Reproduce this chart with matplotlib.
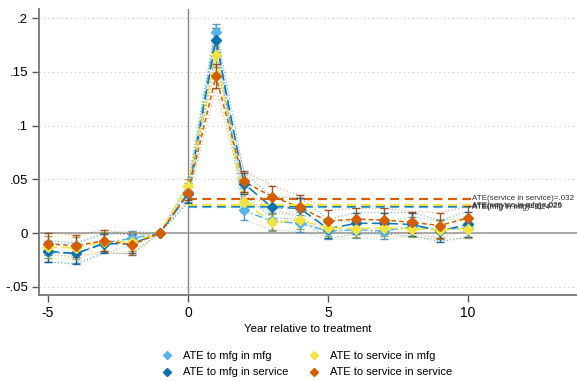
import numpy as np
import matplotlib
matplotlib.use("Agg")
import matplotlib.pyplot as plt
from matplotlib.lines import Line2D

plt.rcParams['font.family'] = ['Liberation Sans', 'DejaVu Sans']

years = np.arange(-5, 11)

# point estimates and CI half-widths by event year
mfg_mfg = [-0.018, -0.019, -0.009, -0.005, 0, 0.038, 0.187, 0.021, 0.011, 0.009,
           0.002, 0.003, 0.002, 0.006, 0.003, 0.005]
mfg_mfg_ci = [0.009, 0.009, 0.009, 0.007, 0, 0.009, 0.008, 0.009, 0.008, 0.008,
              0.008, 0.008, 0.008, 0.009, 0.009, 0.009]
mfg_svc = [-0.017, -0.019, -0.010, -0.010, 0, 0.036, 0.180, 0.046, 0.024, 0.023,
           0.004, 0.009, 0.009, 0.008, 0.002, 0.008]
mfg_svc_ci = [0.010, 0.010, 0.009, 0.009, 0, 0.008, 0.011, 0.010, 0.010, 0.010,
              0.009, 0.010, 0.010, 0.011, 0.010, 0.012]
svc_mfg = [-0.013, -0.014, -0.008, -0.008, 0, 0.044, 0.166, 0.029, 0.010, 0.012,
           0.005, 0.004, 0.005, 0.004, 0.003, 0.004]
svc_mfg_ci = [0.010, 0.010, 0.009, 0.009, 0, 0.006, 0.011, 0.009, 0.008, 0.008,
              0.008, 0.008, 0.008, 0.008, 0.009, 0.009]
svc_svc = [-0.010, -0.012, -0.007, -0.011, 0, 0.037, 0.146, 0.048, 0.034, 0.024,
           0.011, 0.013, 0.012, 0.010, 0.007, 0.014]
svc_svc_ci = [0.010, 0.010, 0.010, 0.009, 0, 0.006, 0.011, 0.010, 0.010, 0.011,
              0.010, 0.010, 0.011, 0.010, 0.012, 0.011]

labels = ["ATE to mfg in mfg", "ATE to mfg in service",
          "ATE to service in mfg", "ATE to service in service"]
ate_names = ["mfg in mfg", "mfg in service", "service in mfg", "service in service"]
ate_vals = [0.024, 0.025, 0.026, 0.032]

colors = ["#56b4e9", "#0a72b0", "#f0e442", "#d55e00"]
cap_colors = ["#4a8ab0", "#0d4f7a", "#9a9440", "#8a3e10"]
dashes = [(0, (5, 2, 1, 2)), (0, (7, 3)), (0, (6, 3)), (0, (3, 2))]

series = [(mfg_mfg, mfg_mfg_ci), (mfg_svc, mfg_svc_ci),
          (svc_mfg, svc_mfg_ci), (svc_svc, svc_svc_ci)]

fig = plt.figure(figsize=(5.77, 3.81), dpi=100)
ax = fig.add_axes([0.0676, 0.2257, 0.9324, 0.7507])

for yv in [-0.05, 0.05, 0.1, 0.15, 0.2]:
    ax.axhline(yv, color="#c8c8c8", lw=0.8, ls=(0, (1, 3)), zorder=0)
ax.axhline(0, color="#999999", lw=1.2, zorder=1)
ax.axvline(0, color="#888888", lw=1.0, zorder=1)

for (est, ci), c, cc, d in zip(series, colors, cap_colors, dashes):
    est = np.array(est)
    ci = np.array(ci)
    ax.plot(years, est + ci, color=c, lw=0.8, ls=(0, (1, 2)), alpha=0.55, zorder=2)
    ax.plot(years, est - ci, color=c, lw=0.8, ls=(0, (1, 2)), alpha=0.55, zorder=2)
    ax.plot(years, est, color=c, lw=1.1, ls=d, zorder=3)
    ax.errorbar(years, est, yerr=ci, fmt="none", ecolor=cc, elinewidth=1.0,
                capsize=3, capthick=1.0, alpha=0.85, zorder=4)
    ax.plot(years, est, "D", color=c, ms=5, mec=c, zorder=5)

# average treatment effects over post-period
for v, name, c in zip(ate_vals, ate_names, colors):
    ax.plot([0, 10.1], [v, v], color=c, lw=1.6, ls=(0, (4, 2.5)), zorder=3)
    ax.text(10.15, v, f"ATE({name})={v:.3f}".replace("0.", "."), fontsize=5.8,
            color="#333333", va="center", ha="left", zorder=6)

ax.set_xlim(-5.32, 13.9)
ax.set_ylim(-0.0577, 0.2086)
ax.set_xticks([-5, 0, 5, 10])
ax.set_xticklabels(["-5", "0", "5", "10"], fontsize=10)
ax.set_yticks([-0.05, 0, 0.05, 0.1, 0.15, 0.2])
ax.set_yticklabels(["-.05", "0", ".05", ".1", ".15", ".2"], fontsize=9.5)
ax.tick_params(direction="out", length=5, width=1, color="#555555", pad=3)
for s in ["top", "right"]:
    ax.spines[s].set_visible(False)
for s in ["left", "bottom"]:
    ax.spines[s].set_color("#777777")
    ax.spines[s].set_linewidth(1.3)
ax.set_xlabel("Year relative to treatment", fontsize=8.2, labelpad=3)

handles = [Line2D([], [], marker="D", ls="none", color=c, ms=4.5) for c in colors]
fig.legend(handles, labels, loc="upper center", bbox_to_anchor=(0.527, 0.104), ncol=2,
           frameon=False, fontsize=8, handletextpad=0.4, columnspacing=1.3,
           labelspacing=0.55)

fig.savefig("out.png", dpi=100)
